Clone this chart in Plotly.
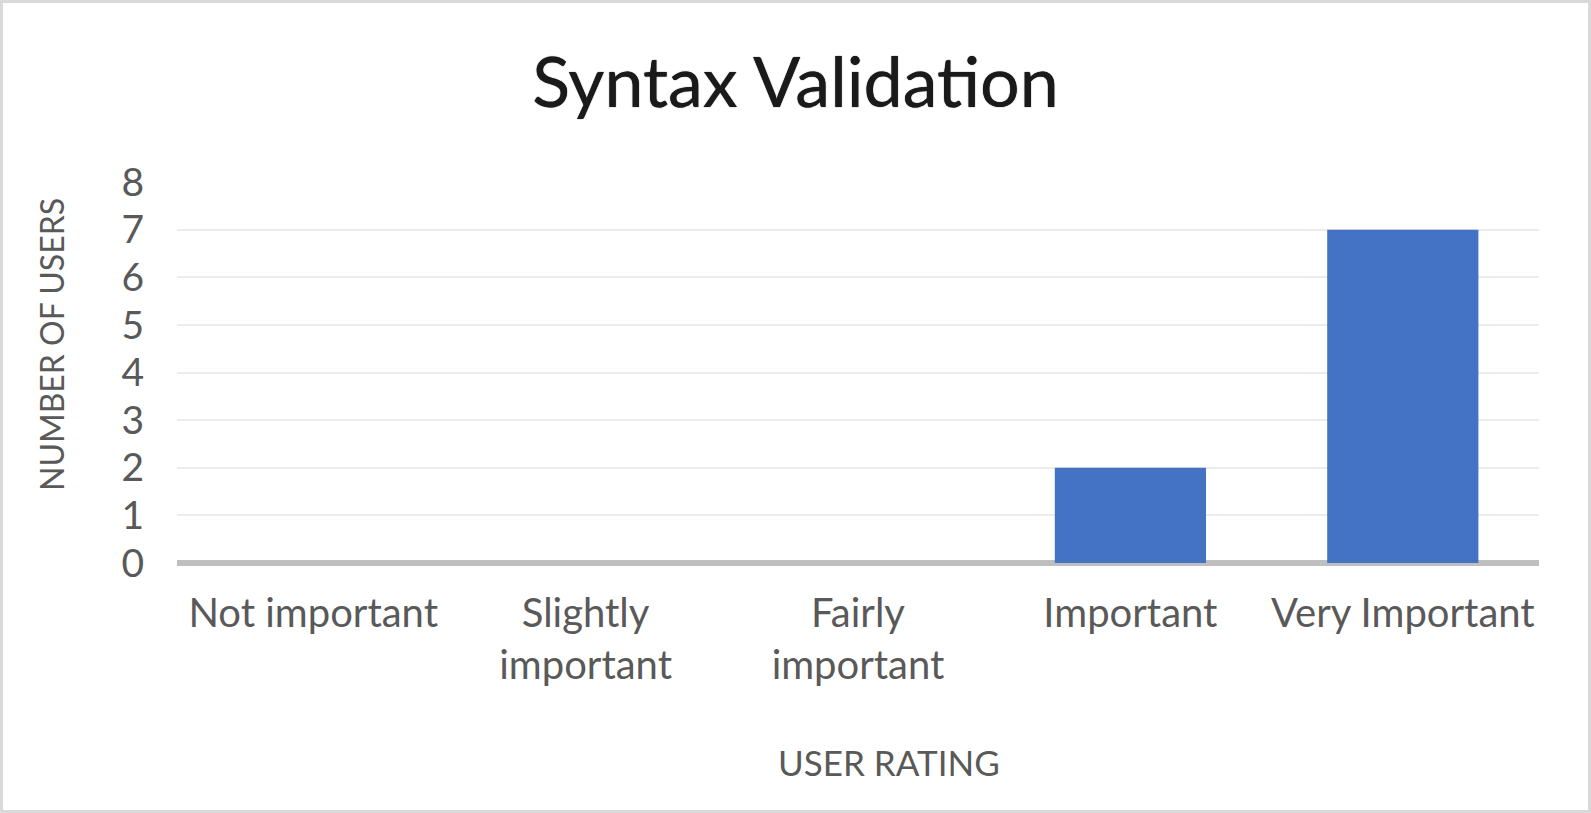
import plotly.graph_objects as go

categories = ["Not important", "Slightly<br>important", "Fairly<br>important", "Important", "Very Important"]
users = [0, 0, 0, 2, 7]
y_ticks = [0, 1, 2, 3, 4, 5, 6, 7, 8]

W, H = 1591, 813
ML, MR, MT, MB = 177, 52, 182, 250
PW, PH = W - ML - MR, H - MT - MB

FONT = "Lato"
GREY_TXT = "#595959"

fig = go.Figure(go.Bar(
    x=categories, y=users,
    marker=dict(color="#4472c4", line=dict(width=0)),
))

fig.update_layout(
    width=W, height=H,
    margin=dict(l=ML, r=MR, t=MT, b=MB, pad=0),
    paper_bgcolor="white", plot_bgcolor="white",
    bargap=0.445,
    showlegend=False,
    title=dict(text="Syntax Validation", x=0.5, xanchor="center", y=1 - 82 / H, yanchor="middle",
               font=dict(family=FONT, size=70, color="#1a1a1a", shadow="0px 0px 1px #000000")),
    font=dict(family=FONT, color=GREY_TXT),
)

fig.update_xaxes(
    showgrid=False, showline=False, ticks="", zeroline=False,
    tickfont=dict(family=FONT, size=40, color=GREY_TXT),
    ticklabelstandoff=23,
)
fig.update_yaxes(
    range=[0, 8], tickvals=y_ticks, showgrid=True, gridcolor="#ececec", gridwidth=2,
    zeroline=True, zerolinecolor="#bfbfbf", zerolinewidth=6,
    showline=False, ticks="",
    tickfont=dict(family=FONT, size=39, color=GREY_TXT),
    ticklabelstandoff=32,
)

# axis titles as annotations
fig.add_annotation(text="USER RATING", xref="paper", yref="paper",
                   x=(889 - ML) / PW, y=(MT + PH - 762) / PH, xanchor="center", yanchor="middle",
                   showarrow=False, font=dict(family=FONT, size=35, color=GREY_TXT))
fig.add_annotation(text="NUMBER OF USERS", xref="paper", yref="paper", textangle=-90,
                   x=(51 - ML) / PW, y=(MT + PH - 345) / PH, xanchor="center", yanchor="middle",
                   showarrow=False, font=dict(family=FONT, size=32, color=GREY_TXT))

# chart border
fig.add_shape(type="rect", xref="paper", yref="paper",
              x0=(1.5 - ML) / PW, x1=(W - 1.5 - ML) / PW,
              y0=(MT + PH - (H - 1.5)) / PH, y1=(MT + PH - 1.5) / PH,
              line=dict(color="#d9d9d9", width=3), layer="below")

fig.write_html("out.html")
